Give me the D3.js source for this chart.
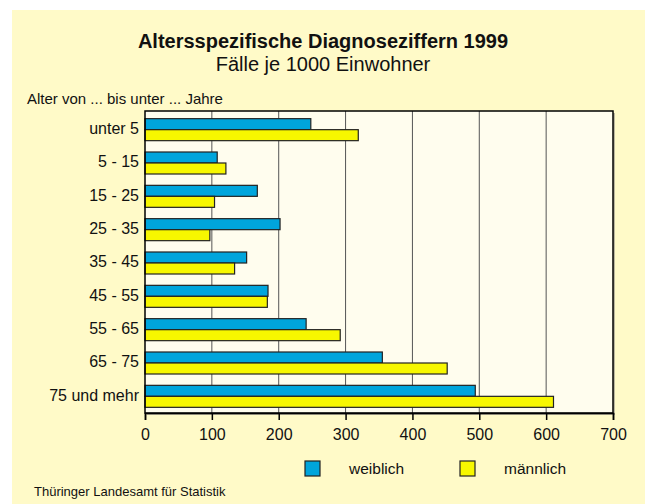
<!DOCTYPE html>
<html>
<head>
<meta charset="utf-8">
<script src="https://cdn.jsdelivr.net/npm/d3@7"></script>
<style>
  body { margin: 0; background: #fff; }
  text { font-family: "Liberation Sans", Arial, sans-serif; fill: #111; }
</style>
</head>
<body>
<div id="chart"></div>
<script>
const width = 645, height = 504;
const margin = {top: 111, right: 32, bottom: 91, left: 145};
const innerWidth = width - margin.left - margin.right;
const innerHeight = height - margin.top - margin.bottom;

// data
const ageGroups = ["unter 5", "5 - 15", "15 - 25", "25 - 35", "35 - 45", "45 - 55", "55 - 65", "65 - 75", "75 und mehr"];
const weiblich = [248, 108, 168, 202, 152, 184, 241, 355, 494];
const maennlich = [319, 121, 104, 97, 134, 183, 292, 452, 611];
const seriesNames = ["weiblich", "männlich"];
const xTicks = [0, 100, 200, 300, 400, 500, 600, 700];

const colors = ["#00A5DC", "#F7F700"];

const svg = d3.select("#chart")
  .append("svg")
  .attr("width", width)
  .attr("height", height);

// outer panel
svg.append("rect")
  .attr("x", 12).attr("y", 10)
  .attr("width", width - 12).attr("height", height - 10)
  .attr("fill", "#FFFAC8");

// titles
svg.append("text")
  .attr("x", 323).attr("y", 48)
  .attr("text-anchor", "middle")
  .style("font-size", "20px")
  .style("font-weight", "bold")
  .text("Altersspezifische Diagnoseziffern 1999");

svg.append("text")
  .attr("x", 323).attr("y", 71)
  .attr("text-anchor", "middle")
  .style("font-size", "20px")
  .text("Fälle je 1000 Einwohner");

svg.append("text")
  .attr("x", 27).attr("y", 104)
  .style("font-size", "15px")
  .text("Alter von ... bis unter ... Jahre");

const x = d3.scaleLinear().domain([0, 700]).range([0, innerWidth]);
const y = d3.scaleBand().domain(ageGroups).range([0, innerHeight])
  .paddingInner(0.34).paddingOuter(0.2);
const ySub = d3.scaleBand().domain(seriesNames).range([0, y.bandwidth()]);

const g = svg.append("g")
  .attr("transform", `translate(${margin.left},${margin.top})`);

// plot area
g.append("rect")
  .attr("x", 2).attr("y", 2)
  .attr("width", innerWidth).attr("height", innerHeight)
  .attr("fill", "#bdb9a0");
g.append("rect")
  .attr("width", innerWidth).attr("height", innerHeight)
  .attr("fill", "#FFFDEE");

// grid lines
g.selectAll(".grid")
  .data(xTicks.slice(1, -1))
  .join("line")
  .attr("class", "grid")
  .attr("x1", d => x(d)).attr("x2", d => x(d))
  .attr("y1", 0).attr("y2", innerHeight)
  .attr("stroke", "#555")
  .attr("stroke-width", 1);

// bars
const rows = ageGroups.map((a, i) => ({age: a, values: [weiblich[i], maennlich[i]]}));

const groups = g.selectAll(".row")
  .data(rows)
  .join("g")
  .attr("class", "row")
  .attr("transform", d => `translate(0,${y(d.age) + 1})`);

groups.selectAll("rect")
  .data(d => d.values.map((v, i) => ({name: seriesNames[i], value: v, i})))
  .join("rect")
  .attr("x", 0)
  .attr("y", d => ySub(d.name))
  .attr("width", d => x(d.value))
  .attr("height", ySub.bandwidth())
  .attr("fill", d => colors[d.i])
  .attr("stroke", "#222")
  .attr("stroke-width", 1.2);

// frame
g.append("rect")
  .attr("width", innerWidth).attr("height", innerHeight)
  .attr("fill", "none")
  .attr("stroke", "#000")
  .attr("stroke-width", 1.5);

// x axis
const xAxis = g.append("g")
  .attr("transform", `translate(0,${innerHeight})`)
  .call(d3.axisBottom(x).tickValues(xTicks).tickSize(7).tickPadding(9));
xAxis.select(".domain").attr("stroke", "#000").attr("stroke-width", 1.5);
xAxis.selectAll(".tick line").attr("stroke", "#000").attr("stroke-width", 1.5);
xAxis.selectAll(".tick text")
  .style("font-size", "16px")
  .style("font-family", "Liberation Sans, Arial, sans-serif")
  .attr("fill", "#111");

// y labels
g.selectAll(".ylab")
  .data(ageGroups)
  .join("text")
  .attr("class", "ylab")
  .attr("x", -6)
  .attr("y", d => y(d) + y.bandwidth() / 2 + 1)
  .attr("text-anchor", "end")
  .attr("dominant-baseline", "middle")
  .style("font-size", "16px")
  .text(d => d);

// legend
const legend = svg.append("g");
const legendX = [305, 460];
seriesNames.forEach((name, i) => {
  legend.append("rect")
    .attr("x", legendX[i]).attr("y", 461)
    .attr("width", 15).attr("height", 15)
    .attr("fill", colors[i])
    .attr("stroke", "#222")
    .attr("stroke-width", 1.2);
  legend.append("text")
    .attr("x", legendX[i] + 44).attr("y", 474)
    .style("font-size", "15.5px")
    .text(name);
});

svg.append("text")
  .attr("x", 34).attr("y", 496)
  .style("font-size", "13px")
  .text("Thüringer Landesamt für Statistik");
</script>
</body>
</html>
